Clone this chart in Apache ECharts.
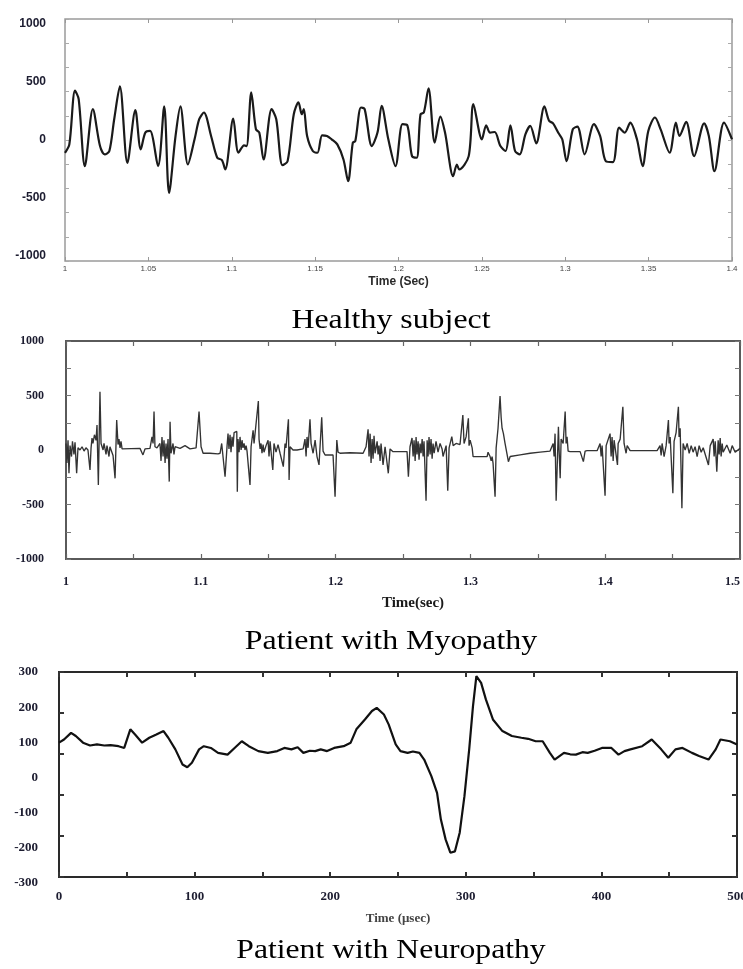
<!DOCTYPE html>
<html><head><meta charset="utf-8">
<script src="https://cdn.jsdelivr.net/npm/echarts@6/dist/echarts.min.js"></script>
<style>html,body{margin:0;padding:0;background:#fff}#c{width:743px;height:969px}</style>
</head><body><div id="c"></div><script>
// ---------- DATA ----------
const healthyXLabels = [1, 1.05, 1.1, 1.15, 1.2, 1.25, 1.3, 1.35, 1.4];
const healthyYLabels = [-1000, -500, 0, 500, 1000];
const healthySignal = [
[1.0000,-110],[1.0026,-38],[1.0060,425],[1.0082,353],[1.0119,-225],[1.0167,266],[1.0210,-52],[1.0238,-124],[1.0266,-95],[1.0295,179],[1.0329,462],[1.0374,-197],[1.0422,257],[1.0454,-81],[1.0482,64],[1.0510,78],[1.0558,-225],[1.0595,289],[1.0624,-457],[1.0663,35],[1.0692,289],[1.0737,-211],[1.0777,6],[1.0805,179],[1.0833,237],[1.0876,35],[1.0913,-153],[1.0941,-173],[1.0961,-254],[1.1009,185],[1.1040,-110],[1.1074,-46],[1.1089,-52],[1.1117,410],[1.1145,92],[1.1165,64],[1.1191,-168],[1.1239,266],[1.1267,179],[1.1304,-217],[1.1335,-182],[1.1372,222],[1.1400,324],[1.1420,222],[1.1432,266],[1.1452,35],[1.1486,-95],[1.1514,-110],[1.1542,40],[1.1571,35],[1.1599,6],[1.1633,-38],[1.1670,-168],[1.1698,-355],[1.1726,-23],[1.1741,-9],[1.1775,280],[1.1797,266],[1.1840,-52],[1.1874,64],[1.1899,295],[1.1939,6],[1.1982,-225],[1.2024,136],[1.2053,127],[1.2081,-139],[1.2109,-153],[1.2132,222],[1.2152,237],[1.2180,445],[1.2217,-23],[1.2251,202],[1.2279,64],[1.2328,-312],[1.2350,-211],[1.2364,-254],[1.2421,-139],[1.2449,309],[1.2500,6],[1.2526,127],[1.2549,64],[1.2577,69],[1.2611,-52],[1.2642,-95],[1.2671,127],[1.2699,-95],[1.2727,-124],[1.2761,49],[1.2790,121],[1.2826,-29],[1.2875,289],[1.2903,165],[1.2926,145],[1.2960,58],[1.2982,6],[1.3008,-182],[1.3045,92],[1.3073,116],[1.3116,-124],[1.3172,136],[1.3209,35],[1.3243,-182],[1.3286,-191],[1.3323,107],[1.3357,64],[1.3390,150],[1.3430,6],[1.3464,-225],[1.3498,78],[1.3538,194],[1.3572,92],[1.3626,-110],[1.3663,150],[1.3685,35],[1.3725,156],[1.3773,-139],[1.3833,144],[1.3861,35],[1.3895,-269],[1.3952,150],[1.4000,6]
];

const myoXLabels = [1, 1.1, 1.2, 1.3, 1.4, 1.5];
const myoYLabels = [-1000, -500, 0, 500, 1000];
const myopathySignal = [
[1.0000,60],[1.0007,-120],[1.0015,90],[1.0022,-214],[1.0030,40],[1.0041,-60],[1.0048,80],[1.0059,-40],[1.0067,70],[1.0079,-214],[1.0089,20],[1.0104,0],[1.0119,30],[1.0134,-10],[1.0148,20],[1.0163,0],[1.0178,-183],[1.0186,20],[1.0193,110],[1.0200,60],[1.0211,140],[1.0223,90],[1.0230,230],[1.0240,-321],[1.0252,535],[1.0260,60],[1.0275,0],[1.0282,60],[1.0297,-40],[1.0304,40],[1.0319,-60],[1.0326,30],[1.0349,-50],[1.0364,-260],[1.0376,275],[1.0386,50],[1.0393,100],[1.0401,20],[1.0408,80],[1.0416,10],[1.0423,15],[1.0549,15],[1.0571,-45],[1.0586,10],[1.0623,15],[1.0638,120],[1.0646,60],[1.0653,352],[1.0660,30],[1.0675,20],[1.0697,60],[1.0705,-100],[1.0712,120],[1.0720,-60],[1.0727,90],[1.0735,-120],[1.0742,60],[1.0749,-80],[1.0757,100],[1.0766,-290],[1.0772,260],[1.0779,-30],[1.0794,60],[1.0801,-40],[1.0809,30],[1.0846,15],[1.0883,40],[1.0920,10],[1.0965,20],[1.0987,352],[1.1002,30],[1.1017,-30],[1.1068,-30],[1.1128,-35],[1.1143,-30],[1.1155,60],[1.1180,-245],[1.1195,40],[1.1202,150],[1.1209,10],[1.1217,140],[1.1224,-20],[1.1232,120],[1.1239,30],[1.1247,160],[1.1267,170],[1.1271,-382],[1.1276,100],[1.1284,-20],[1.1291,120],[1.1299,0],[1.1306,90],[1.1313,20],[1.1321,60],[1.1328,0],[1.1336,40],[1.1343,-10],[1.1365,-321],[1.1373,30],[1.1388,180],[1.1395,60],[1.1427,449],[1.1432,100],[1.1440,10],[1.1447,60],[1.1454,-30],[1.1462,50],[1.1469,-20],[1.1484,40],[1.1499,90],[1.1506,-60],[1.1514,80],[1.1534,-183],[1.1543,60],[1.1558,-20],[1.1573,50],[1.1588,-30],[1.1612,-153],[1.1625,60],[1.1632,20],[1.1650,281],[1.1655,-275],[1.1662,30],[1.1684,0],[1.1714,0],[1.1759,10],[1.1773,100],[1.1781,-60],[1.1788,120],[1.1796,20],[1.1810,281],[1.1818,60],[1.1833,-30],[1.1848,90],[1.1862,-60],[1.1877,-137],[1.1897,300],[1.1907,-10],[1.1922,-46],[1.1981,-46],[1.1996,-428],[1.2009,92],[1.2018,-20],[1.2033,-30],[1.2107,-25],[1.2204,-30],[1.2226,30],[1.2241,190],[1.2248,-60],[1.2256,150],[1.2263,-120],[1.2271,100],[1.2278,-80],[1.2285,130],[1.2293,-30],[1.2308,80],[1.2315,-40],[1.2322,40],[1.2330,-100],[1.2337,60],[1.2352,-137],[1.2367,30],[1.2391,-214],[1.2404,10],[1.2426,-15],[1.2530,-15],[1.2540,-245],[1.2552,30],[1.2567,110],[1.2575,-60],[1.2582,90],[1.2590,-100],[1.2597,120],[1.2604,-40],[1.2612,80],[1.2619,-90],[1.2627,60],[1.2634,-30],[1.2642,100],[1.2649,-60],[1.2656,80],[1.2671,-465],[1.2679,90],[1.2686,-60],[1.2693,120],[1.2701,-40],[1.2708,100],[1.2716,-80],[1.2723,60],[1.2731,-30],[1.2745,80],[1.2760,-20],[1.2775,60],[1.2790,10],[1.2797,-60],[1.2820,40],[1.2832,-373],[1.2842,20],[1.2862,122],[1.2872,40],[1.2894,60],[1.2923,50],[1.2944,321],[1.2953,60],[1.2968,120],[1.2985,290],[1.2990,40],[1.2998,90],[1.3013,20],[1.3020,-61],[1.3124,-61],[1.3131,-20],[1.3146,-60],[1.3154,-100],[1.3161,-60],[1.3168,-120],[1.3183,-428],[1.3191,20],[1.3205,200],[1.3220,495],[1.3228,300],[1.3235,200],[1.3245,150],[1.3257,60],[1.3282,-107],[1.3295,-60],[1.3369,-45],[1.3443,-30],[1.3517,-20],[1.3591,-10],[1.3614,60],[1.3621,-60],[1.3628,150],[1.3636,-465],[1.3653,214],[1.3658,0],[1.3666,-260],[1.3673,100],[1.3688,60],[1.3703,352],[1.3710,60],[1.3717,120],[1.3725,-10],[1.3740,-15],[1.3814,-15],[1.3838,-107],[1.3851,-10],[1.3866,-6],[1.3940,-6],[1.3962,60],[1.3970,-60],[1.3977,40],[1.3999,-419],[1.4007,40],[1.4036,150],[1.4044,-60],[1.4051,120],[1.4059,-100],[1.4066,90],[1.4091,-137],[1.4096,60],[1.4111,100],[1.4131,397],[1.4140,60],[1.4155,-30],[1.4163,40],[1.4185,-6],[1.4296,-6],[1.4385,-6],[1.4407,40],[1.4415,-50],[1.4422,60],[1.4437,-60],[1.4452,40],[1.4469,275],[1.4474,60],[1.4482,120],[1.4502,-397],[1.4511,80],[1.4526,160],[1.4543,397],[1.4548,120],[1.4556,200],[1.4569,-535],[1.4578,60],[1.4593,0],[1.4608,60],[1.4623,-30],[1.4638,40],[1.4652,-20],[1.4667,30],[1.4682,-60],[1.4697,40],[1.4712,-20],[1.4727,20],[1.4766,-137],[1.4779,40],[1.4801,100],[1.4808,-60],[1.4816,80],[1.4828,-199],[1.4838,90],[1.4845,-40],[1.4853,110],[1.4860,-60],[1.4868,60],[1.4875,-20],[1.4902,46],[1.4927,-30],[1.4942,40],[1.4964,-20],[1.5000,15]
];

const neuroXLabels = [0, 100, 200, 300, 400, 500];
const neuroYLabels = [-300, -200, -100, 0, 100, 200, 300];
const neuropathySignal = [
[0,99],[3.7,108],[8.9,127],[12.4,118],[17.7,99],[22.9,91],[28,94],[33.4,91],[38,92],[43.9,89],[48.1,84],[52.6,137],[56.1,122],[61.3,99],[66.6,113],[71.8,122],[77.1,132],[80.6,113],[85.8,80],[91.1,37],[94.6,29],[98,42],[103.3,80],[106.8,89],[112,84],[117.3,70],[124.3,65],[129.5,84],[134.8,103],[140,89],[147,75],[154,70],[161,75],[166.2,84],[171.4,80],[176,86],[180.2,70],[185,76],[188.9,75],[193,80],[197.7,75],[202.9,84],[209.9,89],[215.1,99],[219.3,137],[225.6,165],[230.8,189],[234.3,198],[239.6,179],[243.1,151],[248.3,94],[251.8,75],[257.1,70],[261,74],[265.8,70],[269.3,51],[274.6,4],[278.8,-44],[281.6,-119],[285.1,-176],[288.6,-214],[292,-210],[295.5,-157],[299,-53],[302.5,80],[305.3,203],[307.8,288],[311.3,269],[314.8,222],[320,165],[327,132],[334,118],[341,113],[346,110],[351.5,103],[356.7,103],[362,70],[365.5,51],[372.4,70],[377,66],[381.2,65],[386,72],[389.9,70],[395,76],[400.4,84],[407.4,84],[412.6,65],[417,75],[421.4,80],[430.1,89],[437.1,108],[444.1,80],[449.3,56],[454.6,80],[459.8,84],[466.8,70],[472,61],[479,51],[484.3,80],[487.8,108],[494.8,103],[500,94]
];

// ---------- CHART ----------
const SERIF = "'Liberation Serif','Times New Roman',serif";
const SANS = "'Liberation Sans',Arial,sans-serif";
const hasVal = (arr, v) => arr.some(a => Math.abs(a - v) < 1e-6);
const fmtFrom = arr => v => hasVal(arr, v) ? String(parseFloat(v.toFixed(3))) : '';
const NOLINE = {show: false, onZero: false};

const chart = echarts.init(document.getElementById('c'), null, {renderer: 'canvas'});

function tickOnly(extra) {
  return Object.assign({
    type: 'value', axisLine: NOLINE, splitLine: {show: false},
    axisLabel: {show: false}
  }, extra);
}

const option = {
  animation: false,
  backgroundColor: '#fff',
  grid: [
    {left: 65, width: 667, top: 19, height: 242, show: true, borderColor: '#9a9a9a', borderWidth: 1.5, outerBoundsMode: 'none', containLabel: false},
    {left: 65, width: 667, top: 24, height: 232, show: false, outerBoundsMode: 'none', containLabel: false},
    {left: 66, width: 674, top: 341, height: 218, show: true, borderColor: '#5a5a5a', borderWidth: 2, outerBoundsMode: 'none', containLabel: false},
    {left: 59, width: 678, top: 672, height: 205, show: true, borderColor: '#2a2a2a', borderWidth: 2, outerBoundsMode: 'none', containLabel: false},
    {left: 59, width: 678, top: 672, height: 211, show: false, outerBoundsMode: 'none', containLabel: false}
  ],
  xAxis: [
    // chart 1 bottom
    {gridIndex: 0, type: 'value', position: 'bottom', min: 1, max: 1.4, interval: 0.05,
      axisLine: NOLINE, splitLine: {show: false},
      axisTick: {inside: true, length: 4, lineStyle: {color: '#999'}},
      axisLabel: {margin: 4, fontSize: 8, fontFamily: SANS, color: '#444', formatter: fmtFrom(healthyXLabels)},
      name: 'Time (Sec)', nameLocation: 'middle', nameGap: 15,
      nameTextStyle: {fontFamily: SANS, fontWeight: 'bold', fontSize: 12, color: '#2a2a2a'}},
    tickOnly({gridIndex: 0, position: 'top', min: 1, max: 1.4, interval: 0.05,
      axisTick: {inside: true, length: 4, lineStyle: {color: '#999'}}}),
    {gridIndex: 1, type: 'value', show: false, min: 0, max: 1},
    // chart 2
    {gridIndex: 2, type: 'value', position: 'bottom', min: 1, max: 1.5, interval: 0.05,
      axisLine: NOLINE, splitLine: {show: false},
      axisTick: {inside: true, length: 5, lineStyle: {color: '#666', width: 1.2}},
      axisLabel: {margin: 17, fontSize: 12, fontWeight: 'bold', fontFamily: SERIF, color: '#1c1c30', alignMaxLabel: 'right', formatter: fmtFrom(myoXLabels)},
      name: 'Time(sec)', nameLocation: 'middle', nameGap: 37,
      nameTextStyle: {fontFamily: SERIF, fontWeight: 'bold', fontSize: 15, color: '#1a1a1a', padding: [0, 0, 0, 20]}},
    tickOnly({gridIndex: 2, position: 'top', min: 1, max: 1.5, interval: 0.05,
      axisTick: {inside: true, length: 5, lineStyle: {color: '#666', width: 1.2}}}),
    // chart 3
    {gridIndex: 3, type: 'value', position: 'bottom', min: 0, max: 500, interval: 50,
      axisLine: NOLINE, splitLine: {show: false},
      axisTick: {inside: true, length: 5, lineStyle: {color: '#333', width: 2}},
      axisLabel: {margin: 13, fontSize: 13, fontWeight: 'bold', fontFamily: SERIF, color: '#1c1c30', formatter: fmtFrom(neuroXLabels)},
      name: 'Time (\u03bcsec)', nameLocation: 'middle', nameGap: 35,
      nameTextStyle: {fontFamily: SERIF, fontWeight: 'bold', fontSize: 13, color: '#444'}},
    tickOnly({gridIndex: 3, position: 'top', min: 0, max: 500, interval: 50,
      axisTick: {inside: true, length: 5, lineStyle: {color: '#333', width: 2}}}),
    {gridIndex: 4, type: 'value', show: false, min: 0, max: 1}
  ],
  yAxis: [
    // chart 1 data axes (ticks)
    tickOnly({gridIndex: 0, position: 'left', min: -1043, max: 1043, interval: 208.6,
      axisTick: {inside: true, length: 4, lineStyle: {color: '#aaa'}}}),
    tickOnly({gridIndex: 0, position: 'right', min: -1043, max: 1043, interval: 208.6,
      axisTick: {inside: true, length: 4, lineStyle: {color: '#aaa'}}}),
    // chart 1 labels
    {gridIndex: 1, type: 'value', position: 'left', min: -1000, max: 1000, interval: 500,
      axisLine: NOLINE, axisTick: {show: false}, splitLine: {show: false},
      axisLabel: {margin: 19, fontSize: 12, fontWeight: 'bold', fontFamily: SANS, color: '#1c1c30', formatter: fmtFrom(healthyYLabels)}},
    // chart 2
    {gridIndex: 2, type: 'value', position: 'left', min: -1000, max: 1000, interval: 250,
      axisLine: NOLINE, splitLine: {show: false},
      axisTick: {inside: true, length: 5, lineStyle: {color: '#777'}},
      axisLabel: {margin: 22, fontSize: 12, fontWeight: 'bold', fontFamily: SERIF, color: '#1c1c30', formatter: fmtFrom(myoYLabels)}},
    tickOnly({gridIndex: 2, position: 'right', min: -1000, max: 1000, interval: 250,
      axisTick: {inside: true, length: 5, lineStyle: {color: '#777'}}}),
    // chart 3 data axes (ticks)
    tickOnly({gridIndex: 3, position: 'left', min: -283, max: 300, interval: 116.6,
      axisTick: {inside: true, length: 5, lineStyle: {color: '#333', width: 2}}}),
    tickOnly({gridIndex: 3, position: 'right', min: -283, max: 300, interval: 116.6,
      axisTick: {inside: true, length: 5, lineStyle: {color: '#333', width: 2}}}),
    // chart 3 labels
    {gridIndex: 4, type: 'value', position: 'left', min: -300, max: 300, interval: 100,
      axisLine: NOLINE, axisTick: {show: false}, splitLine: {show: false},
      axisLabel: {margin: 21, fontSize: 13, fontWeight: 'bold', fontFamily: SERIF, color: '#1c1c30', formatter: fmtFrom(neuroYLabels)}}
  ],
  series: [
    {type: 'line', xAxisIndex: 0, yAxisIndex: 0, data: healthySignal, showSymbol: false, smooth: 0.3,
      lineStyle: {color: '#1a1a1a', width: 2.2}},
    {type: 'line', xAxisIndex: 3, yAxisIndex: 3, data: myopathySignal, showSymbol: false,
      lineStyle: {color: '#333', width: 1.35}},
    {type: 'line', xAxisIndex: 5, yAxisIndex: 5, data: neuropathySignal, showSymbol: false,
      lineStyle: {color: '#111', width: 2.2}}
  ],
  graphic: [
    {type: 'text', x: 391, y: 321, scaleX: 1.18, style: {text: 'Healthy subject', font: "27px " + SERIF, fill: '#000', textAlign: 'center', textVerticalAlign: 'middle'}},
    {type: 'text', x: 391, y: 642, scaleX: 1.14, style: {text: 'Patient with Myopathy', font: "28px " + SERIF, fill: '#000', textAlign: 'center', textVerticalAlign: 'middle'}},
    {type: 'text', x: 391, y: 951, scaleX: 1.13, style: {text: 'Patient with Neuropathy', font: "28px " + SERIF, fill: '#000', textAlign: 'center', textVerticalAlign: 'middle'}}
  ]
};
chart.setOption(option);
</script></body></html>
